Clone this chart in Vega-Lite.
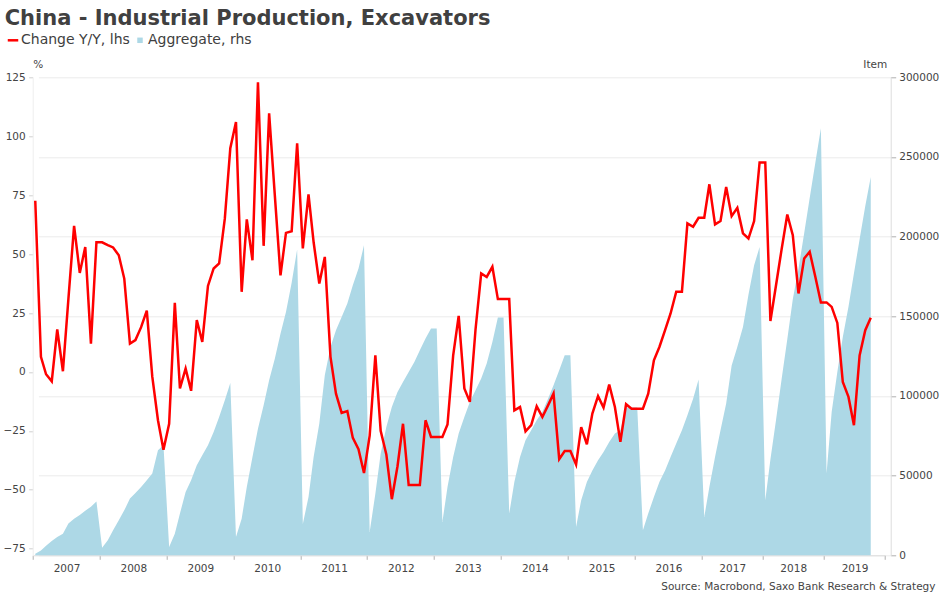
{
  "$schema": "https://vega.github.io/schema/vega-lite/v6.json",
  "width": 858,
  "height": 478,
  "autosize": "none",
  "padding": {"left": 32.7, "top": 77.3, "right": 52.3, "bottom": 41.7},
  "background": "white",
  "config": {
    "font": "DejaVu Sans",
    "view": {"stroke": null},
    "axis": {"labelFont": "DejaVu Sans", "titleFont": "DejaVu Sans"}
  },
  "title": {
    "text": "China - Industrial Production, Excavators",
    "anchor": "start",
    "frame": "group",
    "font": "DejaVu Sans",
    "fontSize": 21,
    "fontWeight": "bold",
    "color": "#404040",
    "dx": -28
  },
  "data": {
    "format": {"parse": {"date": "date"}},
    "values": [
      {"date": "2007-01-15", "chg": 72.6, "agg": 1000},
      {"date": "2007-02-15", "chg": 6.4, "agg": 3000},
      {"date": "2007-03-15", "chg": -1, "agg": 6000},
      {"date": "2007-04-15", "chg": -4, "agg": 9000},
      {"date": "2007-05-15", "chg": 18, "agg": 11500},
      {"date": "2007-06-15", "chg": 0.3, "agg": 13600},
      {"date": "2007-07-15", "chg": 31, "agg": 20000},
      {"date": "2007-08-15", "chg": 62, "agg": 23000},
      {"date": "2007-09-15", "chg": 42, "agg": 25300},
      {"date": "2007-10-15", "chg": 53, "agg": 28000},
      {"date": "2007-11-15", "chg": 12, "agg": 30500},
      {"date": "2007-12-15", "chg": 55, "agg": 33800},
      {"date": "2008-01-15", "chg": 55, "agg": 4800},
      {"date": "2008-02-15", "chg": 53.8, "agg": 9400},
      {"date": "2008-03-15", "chg": 52.8, "agg": 15700},
      {"date": "2008-04-15", "chg": 49.5, "agg": 22000},
      {"date": "2008-05-15", "chg": 39.6, "agg": 28200},
      {"date": "2008-06-15", "chg": 12, "agg": 35600},
      {"date": "2008-07-15", "chg": 13.5, "agg": 39100},
      {"date": "2008-08-15", "chg": 19, "agg": 42900},
      {"date": "2008-09-15", "chg": 26, "agg": 47100},
      {"date": "2008-10-15", "chg": -2, "agg": 51300},
      {"date": "2008-11-15", "chg": -20.5, "agg": 65900},
      {"date": "2008-12-15", "chg": -33, "agg": 69000},
      {"date": "2009-01-15", "chg": -22, "agg": 5200},
      {"date": "2009-02-15", "chg": 29.3, "agg": 13600},
      {"date": "2009-03-15", "chg": -7, "agg": 26200},
      {"date": "2009-04-15", "chg": 1.4, "agg": 39700},
      {"date": "2009-05-15", "chg": -8, "agg": 47100},
      {"date": "2009-06-15", "chg": 22, "agg": 56500},
      {"date": "2009-07-15", "chg": 12.7, "agg": 62800},
      {"date": "2009-08-15", "chg": 36.5, "agg": 69000},
      {"date": "2009-09-15", "chg": 43.9, "agg": 77400},
      {"date": "2009-10-15", "chg": 46, "agg": 86800},
      {"date": "2009-11-15", "chg": 65, "agg": 97300},
      {"date": "2009-12-15", "chg": 94.9, "agg": 108100},
      {"date": "2010-01-15", "chg": 106, "agg": 11500},
      {"date": "2010-02-15", "chg": 34, "agg": 23000},
      {"date": "2010-03-15", "chg": 64.7, "agg": 42900},
      {"date": "2010-04-15", "chg": 47.4, "agg": 61700},
      {"date": "2010-05-15", "chg": 122.9, "agg": 79500},
      {"date": "2010-06-15", "chg": 53.5, "agg": 94100},
      {"date": "2010-07-15", "chg": 109.7, "agg": 109800},
      {"date": "2010-08-15", "chg": 75, "agg": 123400},
      {"date": "2010-09-15", "chg": 41, "agg": 139100},
      {"date": "2010-10-15", "chg": 59, "agg": 152700},
      {"date": "2010-11-15", "chg": 59.7, "agg": 171000},
      {"date": "2010-12-15", "chg": 97, "agg": 192000},
      {"date": "2011-01-15", "chg": 52.4, "agg": 19700},
      {"date": "2011-02-15", "chg": 75.3, "agg": 36600},
      {"date": "2011-03-15", "chg": 55, "agg": 61700},
      {"date": "2011-04-15", "chg": 37.5, "agg": 82700},
      {"date": "2011-05-15", "chg": 48.8, "agg": 113000},
      {"date": "2011-06-15", "chg": 6.4, "agg": 130700},
      {"date": "2011-07-15", "chg": -9.2, "agg": 141200},
      {"date": "2011-08-15", "chg": -17.4, "agg": 149600},
      {"date": "2011-09-15", "chg": -16.6, "agg": 158000},
      {"date": "2011-10-15", "chg": -28, "agg": 169500},
      {"date": "2011-11-15", "chg": -32.8, "agg": 180000},
      {"date": "2011-12-15", "chg": -42.9, "agg": 194600},
      {"date": "2012-01-15", "chg": -27, "agg": 14600},
      {"date": "2012-02-15", "chg": 7, "agg": 38700},
      {"date": "2012-03-15", "chg": -25, "agg": 63800},
      {"date": "2012-04-15", "chg": -35, "agg": 80500},
      {"date": "2012-05-15", "chg": -54, "agg": 93100},
      {"date": "2012-06-15", "chg": -40, "agg": 102500},
      {"date": "2012-07-15", "chg": -22, "agg": 108800},
      {"date": "2012-08-15", "chg": -48, "agg": 115000},
      {"date": "2012-09-15", "chg": -48, "agg": 121300},
      {"date": "2012-10-15", "chg": -48, "agg": 128700},
      {"date": "2012-11-15", "chg": -20.5, "agg": 136000},
      {"date": "2012-12-15", "chg": -27.6, "agg": 142300},
      {"date": "2013-01-15", "chg": -27.6, "agg": 142300},
      {"date": "2013-02-15", "chg": -27.6, "agg": 20900},
      {"date": "2013-03-15", "chg": -22.3, "agg": 42900},
      {"date": "2013-04-15", "chg": 7, "agg": 61700},
      {"date": "2013-05-15", "chg": 23.8, "agg": 76400},
      {"date": "2013-06-15", "chg": -7, "agg": 86800},
      {"date": "2013-07-15", "chg": -12.7, "agg": 96200},
      {"date": "2013-08-15", "chg": 18, "agg": 103600},
      {"date": "2013-09-15", "chg": 41.8, "agg": 110900},
      {"date": "2013-10-15", "chg": 40.3, "agg": 120300},
      {"date": "2013-11-15", "chg": 44.6, "agg": 133900},
      {"date": "2013-12-15", "chg": 30.9, "agg": 149200},
      {"date": "2014-01-15", "chg": 30.9, "agg": 149200},
      {"date": "2014-02-15", "chg": 30.9, "agg": 26200},
      {"date": "2014-03-15", "chg": -16.3, "agg": 46000},
      {"date": "2014-04-15", "chg": -14.9, "agg": 61700},
      {"date": "2014-05-15", "chg": -25.2, "agg": 72200},
      {"date": "2014-06-15", "chg": -22.6, "agg": 78500},
      {"date": "2014-07-15", "chg": -14.6, "agg": 84700},
      {"date": "2014-08-15", "chg": -19.1, "agg": 89900},
      {"date": "2014-09-15", "chg": -14.2, "agg": 98300},
      {"date": "2014-10-15", "chg": -9.2, "agg": 106700},
      {"date": "2014-11-15", "chg": -37, "agg": 116100},
      {"date": "2014-12-15", "chg": -33.6, "agg": 125500},
      {"date": "2015-01-15", "chg": -33.6, "agg": 125500},
      {"date": "2015-02-15", "chg": -39.3, "agg": 17800},
      {"date": "2015-03-15", "chg": -23.4, "agg": 34500},
      {"date": "2015-04-15", "chg": -30.7, "agg": 46000},
      {"date": "2015-05-15", "chg": -17.7, "agg": 53300},
      {"date": "2015-06-15", "chg": -10.3, "agg": 59600},
      {"date": "2015-07-15", "chg": -15.1, "agg": 64800},
      {"date": "2015-08-15", "chg": -5.4, "agg": 71100},
      {"date": "2015-09-15", "chg": -14.9, "agg": 76400},
      {"date": "2015-10-15", "chg": -29.7, "agg": 78500},
      {"date": "2015-11-15", "chg": -13.7, "agg": 92700},
      {"date": "2015-12-15", "chg": -15.6, "agg": 92700},
      {"date": "2016-01-15", "chg": -15.6, "agg": 92700},
      {"date": "2016-02-15", "chg": -15.6, "agg": 15700},
      {"date": "2016-03-15", "chg": -9.2, "agg": 26200},
      {"date": "2016-04-15", "chg": 4.9, "agg": 36600},
      {"date": "2016-05-15", "chg": 10.6, "agg": 46000},
      {"date": "2016-06-15", "chg": 17.7, "agg": 53300},
      {"date": "2016-07-15", "chg": 24.8, "agg": 61700},
      {"date": "2016-08-15", "chg": 34, "agg": 70100},
      {"date": "2016-09-15", "chg": 34, "agg": 78500},
      {"date": "2016-10-15", "chg": 63, "agg": 87900},
      {"date": "2016-11-15", "chg": 61.6, "agg": 98300},
      {"date": "2016-12-15", "chg": 65.4, "agg": 110300},
      {"date": "2017-02-15", "chg": 65.4, "agg": 24000},
      {"date": "2017-03-15", "chg": 79.6, "agg": 42900},
      {"date": "2017-04-15", "chg": 62.6, "agg": 61700},
      {"date": "2017-05-15", "chg": 64, "agg": 78500},
      {"date": "2017-06-15", "chg": 78.5, "agg": 95200},
      {"date": "2017-07-15", "chg": 66.1, "agg": 119200},
      {"date": "2017-08-15", "chg": 69.6, "agg": 130700},
      {"date": "2017-09-15", "chg": 58.8, "agg": 143300},
      {"date": "2017-10-15", "chg": 56.6, "agg": 163500},
      {"date": "2017-11-15", "chg": 64, "agg": 182000},
      {"date": "2017-12-15", "chg": 88.9, "agg": 193500},
      {"date": "2018-02-15", "chg": 88.9, "agg": 34500},
      {"date": "2018-03-15", "chg": 21.6, "agg": 60200},
      {"date": "2018-04-15", "chg": 37, "agg": 85300},
      {"date": "2018-05-15", "chg": 52, "agg": 110500},
      {"date": "2018-06-15", "chg": 66.8, "agg": 135600},
      {"date": "2018-07-15", "chg": 58, "agg": 160700},
      {"date": "2018-08-15", "chg": 33.3, "agg": 179800},
      {"date": "2018-09-15", "chg": 48.1, "agg": 202100},
      {"date": "2018-10-15", "chg": 51, "agg": 224200},
      {"date": "2018-11-15", "chg": 40.3, "agg": 246600},
      {"date": "2018-12-15", "chg": 29.5, "agg": 268000},
      {"date": "2019-02-15", "chg": 29.5, "agg": 51300},
      {"date": "2019-03-15", "chg": 27.6, "agg": 90000},
      {"date": "2019-04-15", "chg": 20.8, "agg": 115000},
      {"date": "2019-05-15", "chg": -4.3, "agg": 137000},
      {"date": "2019-06-15", "chg": -10.6, "agg": 156000},
      {"date": "2019-07-15", "chg": -22.6, "agg": 177000},
      {"date": "2019-08-15", "chg": 7, "agg": 198300},
      {"date": "2019-09-15", "chg": 17.7, "agg": 219200},
      {"date": "2019-10-15", "chg": 23, "agg": 237400}
    ]
  },
  "encoding": {
    "x": {
      "field": "date",
      "type": "quantitative",
      "scale": {
        "nice": false,
        "zero": false,
        "domain": [1167609600000, 1483228800000, 1485907200000, 1514764800000, 1517443200000, 1546300800000, 1548979200000, 1577836800000],
        "range": [0, 669, 669, 730, 730, 791.3, 791.3, 852.3]
      },
      "axis": {
        "values": [1167609600000, 1199145600000, 1230768000000, 1262304000000, 1293840000000, 1325376000000, 1356998400000, 1388534400000, 1420070400000, 1451606400000, 1483228800000, 1514764800000, 1546300800000, 1577836800000],
        "labelExpr": "utcyear(datum.value) < 2020 ? '' + utcyear(datum.value) : ''",
        "labelOffset": {"condition": {"test": "utcyear(datum.value) >= 2017", "value": 30.5}, "value": 33.8},
        "labelFontSize": 10.5,
        "labelColor": "#444444",
        "labelPadding": 4,
        "labelOverlap": false,
        "labelFlush": false,
        "labelBound": false,
        "tickSize": 4,
        "tickColor": "#b0b0b0",
        "domainColor": "#dddddd",
        "grid": false,
        "title": "Source: Macrobond, Saxo Bank Research & Strategy",
        "titleAnchor": null,
        "titleAlign": "right",
        "titleBaseline": "alphabetic",
        "titleX": 902.3,
        "titleY": 34,
        "titleFontSize": 10.5,
        "titleFontWeight": "normal",
        "titleColor": "#444444"
      }
    }
  },
  "layer": [
    {
      "mark": {"type": "area", "interpolate": "linear", "opacity": 1},
      "encoding": {
        "y": {
          "field": "agg",
          "type": "quantitative",
          "scale": {"domain": [0, 300000], "nice": false},
          "axis": {
            "orient": "right",
            "values": [0, 50000, 100000, 150000, 200000, 250000, 300000],
            "format": "d",
            "grid": true,
            "gridColor": "#ececec",
            "labelFontSize": 10.5,
            "labelColor": "#444444",
            "labelPadding": 3,
            "tickSize": 5,
            "tickColor": "#b0b0b0",
            "domainColor": "#dddddd",
            "title": "Item",
            "titleAngle": 0,
            "titleAlign": "right",
            "titleBaseline": "alphabetic",
            "titleX": -4,
            "titleY": -10,
            "titleFontSize": 10.5,
            "titleFontWeight": "normal",
            "titleColor": "#444444"
          }
        },
        "color": {"datum": "Aggregate, rhs"}
      }
    },
    {
      "mark": {"type": "line", "strokeWidth": 2.5, "interpolate": "linear"},
      "encoding": {
        "y": {
          "field": "chg",
          "type": "quantitative",
          "scale": {"domain": [-77.8, 125], "nice": false, "zero": false},
          "axis": {
            "orient": "left",
            "values": [-75, -50, -25, 0, 25, 50, 75, 100, 125],
            "grid": false,
            "labelFontSize": 10.5,
            "labelColor": "#444444",
            "labelPadding": 3.5,
            "tickSize": 4,
            "tickColor": "#d0d0d0",
            "domainColor": "#eeeeee",
            "title": "%",
            "titleAngle": 0,
            "titleAlign": "left",
            "titleBaseline": "alphabetic",
            "titleX": 0,
            "titleY": -10,
            "titleFontSize": 10.5,
            "titleFontWeight": "normal",
            "titleColor": "#444444"
          }
        },
        "color": {
          "datum": "Change Y/Y, lhs",
          "scale": {"domain": ["Change Y/Y, lhs", "Aggregate, rhs"], "range": ["#ff0000", "#add8e6"]},
          "legend": {
            "orient": "none",
            "legendX": -26.7,
            "legendY": -44,
            "direction": "horizontal",
            "title": null,
            "labelFont": "DejaVu Sans",
            "labelFontSize": 14,
            "labelColor": "#404040",
            "labelOffset": 1,
            "columnPadding": 3,
            "symbolSize": 110,
            "encode": {
              "symbols": {
                "update": {
                  "shape": {"signal": "datum.value === 'Change Y/Y, lhs' ? 'stroke' : 'square'"},
                  "size": {"signal": "datum.value === 'Change Y/Y, lhs' ? 110 : 30"},
                  "strokeWidth": {"signal": "datum.value === 'Change Y/Y, lhs' ? 2.5 : 0"},
                  "fill": {"signal": "datum.value === 'Change Y/Y, lhs' ? 'transparent' : '#add8e6'"},
                  "stroke": {"signal": "datum.value === 'Change Y/Y, lhs' ? '#ff0000' : '#add8e6'"},
                  "opacity": {"value": 1}
                }
              }
            }
          }
        }
      }
    }
  ],
  "resolve": {"scale": {"y": "independent"}}
}
